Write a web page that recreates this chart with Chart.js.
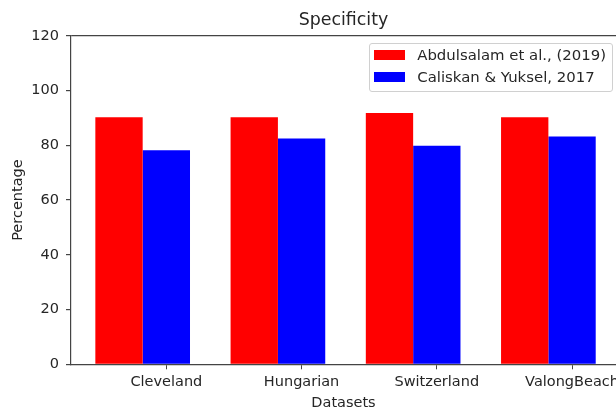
<!DOCTYPE html>
<html>
<head>
<meta charset="utf-8">
<script src="https://cdn.jsdelivr.net/npm/chart.js@4.4.1/dist/chart.umd.min.js"></script>
<style>
  html, body { margin: 0; padding: 0; background: #fff; overflow: hidden; }
  #wrap { position: relative; width: 616px; height: 410px; }
  #legend {
    position: absolute;
    box-sizing: border-box;
    border: 1px solid #d0d0d0;
    border-radius: 3px;
    background: rgba(255, 255, 255, 0.85);
    padding: 0 6px 3px 4px;
    font: 14.9px "DejaVu Sans", sans-serif;
    color: #262626;
  }
  #legend .row { display: flex; align-items: center; height: 22px; white-space: nowrap; }
  #legend .sw { width: 31px; height: 10px; margin-right: 12px; }
</style>
</head>
<body>
<div id="wrap">
  <canvas id="chart"></canvas>
  <div id="legend"></div>
</div>
<script>
// values
const categories = ['Cleveland', 'Hungarian', 'Switzerland', 'ValongBeach'];
const abdulsalam = [90.3, 90.3, 91.8, 90.3];
const caliskan = [78.2, 82.5, 79.9, 83.2];
const yTicks = [0, 20, 40, 60, 80, 100, 120];

const ink = '#262626';
const spine = '#444';

Chart.defaults.font.family = '"DejaVu Sans", sans-serif';
Chart.defaults.color = ink;

// legend sits inside the plot, top right, like matplotlib's default
const htmlLegend = {
  id: 'htmlLegend',
  afterUpdate(chart) {
    const box = document.getElementById('legend');
    box.innerHTML = '';
    chart.data.datasets.forEach(ds => {
      const row = document.createElement('div');
      row.className = 'row';
      const sw = document.createElement('span');
      sw.className = 'sw';
      sw.style.background = ds.backgroundColor;
      const txt = document.createElement('span');
      txt.textContent = ds.label;
      row.appendChild(sw);
      row.appendChild(txt);
      box.appendChild(row);
    });
    const area = chart.chartArea;
    box.style.right = (chart.width - area.right + 3) + 'px';
    box.style.top = (area.top + 7.5) + 'px';
  }
};

const toPoints = vals => vals.map((v, i) => ({ x: i, y: v }));

new Chart(document.getElementById('chart'), {
  type: 'bar',
  data: {
    datasets: [
      {
        label: 'Abdulsalam et al., (2019)',
        data: toPoints(abdulsalam),
        backgroundColor: '#ff0000',
        categoryPercentage: 0.7,
        barPercentage: 1.0,
      },
      {
        label: 'Caliskan & Yuksel, 2017',
        data: toPoints(caliskan),
        backgroundColor: '#0000ff',
        categoryPercentage: 0.7,
        barPercentage: 1.0,
      },
    ],
  },
  options: {
    responsive: true,
    maintainAspectRatio: false,
    animation: false,
    layout: { padding: 0 },
    plugins: {
      legend: { display: false },
      tooltip: { enabled: false },
      title: {
        display: true,
        text: 'Specificity',
        fullSize: false,
        color: ink,
        font: { size: 17.4, weight: 'normal' },
        padding: { top: 10.5, bottom: 4.5 },
      },
    },
    scales: {
      x: {
        type: 'linear',
        min: -0.53,
        max: 3.5,
        offset: false,
        z: 1,
        afterBuildTicks: s => {
          s.ticks = categories.map((c, i) => ({ value: i + 0.175 }));
        },
        afterFit: s => {
          s.height = 45.7;
          s.paddingLeft = 0;
          s.paddingRight = 0;
        },
        ticks: {
          autoSkip: false,
          maxRotation: 0,
          padding: 4,
          color: ink,
          font: { size: 14.5 },
          callback: (v, i) => categories[i],
        },
        grid: {
          offset: false,
          drawOnChartArea: false,
          color: 'transparent',
          tickColor: spine,
          tickLength: 5,
        },
        border: { display: true, color: spine, width: 1.2 },
        title: {
          display: true,
          text: 'Datasets',
          color: ink,
          font: { size: 14.5, lineHeight: 1 },
          padding: 0,
        },
      },
      y: {
        min: 0,
        max: 120,
        z: 1,
        afterBuildTicks: s => {
          s.ticks = yTicks.map(v => ({ value: v }));
        },
        afterFit: s => { s.width = 71; },
        ticks: {
          padding: 7,
          color: ink,
          font: { size: 14.5 },
        },
        grid: {
          color: c => (c.tick && c.tick.value === 120 ? spine : 'transparent'),
          lineWidth: 1.2,
          tickColor: spine,
          tickLength: 5,
        },
        border: { display: true, color: spine, width: 1.2 },
        title: {
          display: true,
          text: 'Percentage',
          color: ink,
          font: { size: 14.5 },
          padding: { top: 9.5, bottom: 0 },
        },
      },
    },
  },
  plugins: [htmlLegend],
});
</script>
</body>
</html>
